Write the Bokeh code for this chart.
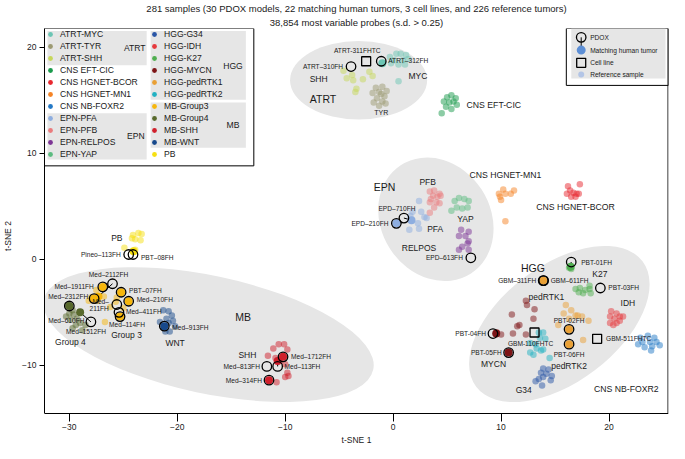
import math
from bokeh.plotting import figure
from bokeh.models import (Range1d, Legend, LegendItem, BoxAnnotation, Label,
                          ColumnDataSource, FixedTicker, Title)
from bokeh.core.properties import value
from bokeh.embed import file_html
from bokeh.resources import INLINE

FONT = "Liberation Sans"

# ------------------------------------------------------------------ data
TITLE_1 = "281 samples (30 PDOX models, 22 matching human tumors, 3 cell lines, and 226 reference tumors)"
TITLE_2 = "38,854 most variable probes (s.d. > 0.25)"
X_LABEL = "t-SNE 1"
Y_LABEL = "t-SNE 2"
X_TICKS = [-30, -20, -10, 0, 10, 20]
Y_TICKS = [-10, 0, 10, 20]

CLASSES = ["ATRT-MYC", "ATRT-TYR", "ATRT-SHH", "CNS EFT-CIC", "CNS HGNET-BCOR",
           "CNS HGNET-MN1", "CNS NB-FOXR2", "EPN-PFA", "EPN-PFB", "EPN-RELPOS", "EPN-YAP",
           "HGG-G34", "HGG-IDH", "HGG-K27", "HGG-MYCN", "HGG-pedRTK1", "HGG-pedRTK2",
           "MB-Group3", "MB-Group4", "MB-SHH", "MB-WNT", "PB"]
COLORS = ["#6cc5b4", "#9c9a72", "#c6d75a", "#1a9a4c", "#e8282f",
          "#f58426", "#2479c6", "#8eaee0", "#ea7b7d", "#7c3495", "#5cbb80",
          "#2a56a6", "#e63a3d", "#4fae4f", "#7d1416", "#e9a035", "#22b1c2",
          "#f6b60c", "#58692c", "#d0202c", "#17498c", "#f6e012"]

ATRT_MYC_X = [0.3, 0.7, 1.2, -0.3, 0.1, 0.9, 1.4, -0.2, 0.5, 1.1, 0.5]
ATRT_MYC_Y = [19.4, 19.4, 19.3, 19.1, 18.8, 18.8, 18.9, 18.5, 18.4, 18.4, 16.8]
ATRT_TYR_X = [-1.6, -1.0, -0.6, -1.9, -1.3, -0.8, -1.5, -1.0, -1.8, -0.7, -1.3, -1.1]
ATRT_TYR_Y = [16.2, 16.3, 15.9, 15.7, 15.8, 15.4, 15.2, 14.9, 14.8, 14.7, 14.5, 15.6]
ATRT_SHH_X = [-4.6, -4.3, -3.8, -3.7, -2.8, -2.2, -3.4, -3.5, -1.9]
ATRT_SHH_Y = [17.8, 17.1, 17.4, 16.9, 17.0, 17.7, 16.1, 15.8, 17.3]
CNS_EFT_CIC_X = [5.0, 5.4, 5.8, 4.7, 5.2, 5.6, 4.9, 5.4, 4.5, 5.9]
CNS_EFT_CIC_Y = [15.3, 15.5, 15.2, 14.9, 14.8, 14.9, 14.4, 14.2, 13.8, 14.6]
CNS_HGNET_BCOR_X = [16.2, 17.3, 16.4, 16.7, 16.1, 17.0, 16.5, 16.9, 17.2]
CNS_HGNET_BCOR_Y = [6.9, 7.1, 6.5, 6.3, 6.2, 6.2, 5.9, 5.9, 6.2]
CNS_HGNET_MN1_X = [10.2, 9.8, 9.9, 10.4, 10.9, 11.2, 10.0, 10.4]
CNS_HGNET_MN1_Y = [6.6, 6.2, 5.9, 6.2, 6.2, 6.5, 5.6, 3.6]
CNS_NB_FOXR2_X = [22.9, 23.6, 24.2, 23.1, 23.8, 24.4, 23.3, 24.0, 24.7, 22.7, 23.9]
CNS_NB_FOXR2_Y = [-7.4, -7.2, -7.4, -7.8, -7.8, -7.8, -8.3, -8.2, -8.1, -8.0, -8.6]
EPN_PFA_X = [2.4, 1.8, 1.6, 2.6, 2.9, 2.3, 1.5, 2.4, 3.1]
EPN_PFA_Y = [5.5, 4.5, 4.1, 4.5, 4.0, 3.4, 2.8, 2.9, 3.9]
EPN_PFB_X = [3.4, 3.8, 4.3, 3.7, 4.1, 4.4, 4.0, 3.4, 3.8, 4.3, 3.5, 3.4]
EPN_PFB_Y = [6.4, 6.5, 6.2, 6.0, 5.9, 6.0, 5.4, 5.4, 4.9, 5.3, 5.7, 4.4]
EPN_RELPOS_X = [6.3, 7.0, 6.1, 6.7, 7.0, 6.9, 6.4, 6.1, 7.0]
EPN_RELPOS_Y = [2.8, 2.6, 2.2, 2.2, 1.7, 1.5, 1.2, 0.9, 0.9]
EPN_YAP_X = [5.7, 6.1, 6.6, 7.0, 5.9, 6.4, 6.9, 5.4]
EPN_YAP_Y = [5.5, 5.8, 5.7, 5.5, 4.9, 4.8, 4.9, 4.6]
HGG_G34_X = [13.9, 14.4, 13.7, 14.2, 14.7, 13.5, 13.9, 14.6, 13.2, 13.8]
HGG_G34_Y = [-10.3, -10.4, -10.7, -10.8, -11.0, -11.3, -11.1, -11.4, -11.5, -11.9]
HGG_IDH_X = [20.2, 20.7, 21.0, 21.3, 20.1, 20.5, 21.0, 20.1, 20.4, 20.7]
HGG_IDH_Y = [-4.9, -5.1, -5.4, -5.4, -5.4, -5.6, -5.8, -6.0, -6.2, -6.0]
HGG_K27_X = [16.3, 16.5, 16.9, 17.3, 17.2, 17.8, 18.2, 18.3, 17.6, 18.2]
HGG_K27_Y = [-0.8, -0.9, -2.8, -2.7, -3.1, -2.9, -2.8, -3.2, -3.2, -2.5]
HGG_MYCN_X = [12.3, 12.4, 13.1, 13.0, 11.0, 11.5, 11.7, 11.1, 10.0, 12.3, 9.6]
HGG_MYCN_Y = [-3.9, -4.3, -4.7, -5.6, -5.2, -6.3, -6.2, -7.0, -7.1, -7.1, -6.9]
HGG_PEDRTK1_X = [16.0, 16.5, 16.9, 17.5, 18.1, 15.8, 16.3, 15.3, 17.6, 17.1]
HGG_PEDRTK1_Y = [-4.3, -4.8, -5.3, -5.4, -5.8, -5.1, -5.6, -6.2, -7.6, -5.3]
HGG_PEDRTK2_X = [13.5, 13.9, 13.6, 14.1, 12.7, 13.2, 12.7, 13.3, 13.7, 13.9, 14.5, 13.0]
HGG_PEDRTK2_Y = [-6.9, -6.9, -7.4, -7.5, -7.9, -8.0, -8.8, -8.4, -8.6, -8.5, -9.3, -9.0]
MB_GROUP3_X = [-27.5, -28.2, -28.0, -27.4, -26.8, -25.6, -25.7, -26.7, -26.2, -25.0]
MB_GROUP3_Y = [-2.9, -3.9, -3.6, -3.9, -3.5, -3.6, -4.0, -5.9, -4.5, -4.6]
MB_GROUP4_X = [-30.2, -29.7, -30.0, -29.6, -29.3, -30.3, -29.9, -29.0, -29.4, -29.7, -28.8, -28.5]
MB_GROUP4_Y = [-4.3, -4.8, -5.1, -5.2, -5.6, -5.4, -5.7, -6.0, -6.2, -6.5, -6.7, -6.2]
MB_SHH_X = [-11.1, -10.6, -10.1, -9.8, -10.9, -10.5, -10.0, -9.8, -10.0, -10.8, -9.7, -11.6]
MB_SHH_Y = [-8.4, -8.0, -8.0, -8.5, -9.3, -9.6, -9.9, -10.7, -11.1, -11.6, -11.0, -9.1]
MB_WNT_X = [-21.3, -20.8, -20.5, -21.0, -20.4, -21.6, -21.1, -20.7, -20.2, -20.8]
MB_WNT_Y = [-4.8, -4.9, -5.3, -5.6, -5.8, -5.9, -6.8, -6.8, -6.3, -6.0]
PB_X = [-24.1, -23.6, -23.3, -23.9, -23.4, -24.2, -24.9, -23.9]
PB_Y = [2.3, 2.5, 2.4, 1.9, 1.8, 2.0, 1.1, 0.9]

REF_X = [ATRT_MYC_X, ATRT_TYR_X, ATRT_SHH_X, CNS_EFT_CIC_X, CNS_HGNET_BCOR_X,
         CNS_HGNET_MN1_X, CNS_NB_FOXR2_X, EPN_PFA_X, EPN_PFB_X, EPN_RELPOS_X, EPN_YAP_X,
         HGG_G34_X, HGG_IDH_X, HGG_K27_X, HGG_MYCN_X, HGG_PEDRTK1_X, HGG_PEDRTK2_X,
         MB_GROUP3_X, MB_GROUP4_X, MB_SHH_X, MB_WNT_X, PB_X]
REF_Y = [ATRT_MYC_Y, ATRT_TYR_Y, ATRT_SHH_Y, CNS_EFT_CIC_Y, CNS_HGNET_BCOR_Y,
         CNS_HGNET_MN1_Y, CNS_NB_FOXR2_Y, EPN_PFA_Y, EPN_PFB_Y, EPN_RELPOS_Y, EPN_YAP_Y,
         HGG_G34_Y, HGG_IDH_Y, HGG_K27_Y, HGG_MYCN_Y, HGG_PEDRTK1_Y, HGG_PEDRTK2_Y,
         MB_GROUP3_Y, MB_GROUP4_Y, MB_SHH_Y, MB_WNT_Y, PB_Y]

PDOX_NAMES = ["ATRT–310FH", "ATRT–312FH", "EPD–710FH", "EPD–210FH", "EPD–613FH",
              "Pineo–113FH", "PBT–08FH", "Med–2112FH", "Med–1911FH", "PBT–07FH",
              "Med–2312FH", "Med–210FH", "Med–211FH", "Med–411FH", "Med–114FH",
              "Med–610FH", "Med–1512FH", "Med–913FH", "Med–1712FH", "Med–813FH",
              "Med–113FH", "Med–314FH", "PBT-01FH", "PBT-03FH", "GBM–311FH",
              "GBM–611FH", "PBT-04FH", "PBT-05FH", "PBT-02FH", "PBT-06FH"]
PDOX_X = [-3.9, -1.1, 1.0, 0.3, 7.2, -24.5, -24.1, -26.0, -26.9, -25.2,
          -27.7, -24.5, -25.6, -25.4, -25.3, -30.0, -28.0, -21.2, -10.2, -11.7,
          -10.7, -11.5, 16.5, 19.2, 13.9, 13.95, 9.25, 10.7, 16.3, 16.3]
PDOX_Y = [18.2, 18.7, 3.9, 3.4, 0.15, 0.46, 0.46, -2.3, -2.6, -3.1,
          -3.7, -3.95, -4.26, -5.0, -5.4, -4.4, -5.9, -6.3, -9.2, -10.1,
          -10.1, -11.4, -0.25, -2.7, -2.0, -2.0, -7.0, -8.8, -6.6, -8.0]

MATCH_PDOX = ["ATRT–312FH", "EPD–710FH", "EPD–210FH", "PBT–08FH", "Med–1911FH",
              "Med–2312FH", "PBT–07FH", "Med–210FH", "Med–114FH", "Med–913FH",
              "Med–1712FH", "Med–314FH", "Med–113FH", "PBT-01FH", "GBM–311FH",
              "PBT-04FH", "PBT-05FH", "PBT-02FH", "PBT-06FH", "Med–610FH",
              "Med–1512FH", "Med–2112FH"]
MATCH_CLASS = ["ATRT-MYC", "EPN-PFA", "EPN-PFA", "PB", "MB-Group3",
               "MB-Group3", "MB-Group3", "MB-Group3", "MB-Group3", "MB-WNT",
               "MB-SHH", "MB-SHH", "MB-SHH", "HGG-K27", "HGG-pedRTK1",
               "HGG-MYCN", "HGG-MYCN", "HGG-pedRTK1", "HGG-pedRTK1", "MB-Group4",
               "MB-Group4", "MB-Group3"]
MATCH_X = [-1.0, 1.7, 0.3, -24.05, -26.9, -27.7, -25.2, -24.5, -25.3, -21.2,
           -10.2, -11.5, -10.7, 16.45, 13.9, 9.55, 10.7, 16.3, 16.3, -30.0,
           -29.0, -27.3]
MATCH_Y = [18.5, 3.7, 3.4, 0.77, -2.6, -3.7, -3.1, -3.95, -5.4, -6.3,
           -9.2, -11.4, -9.6, -0.7, -2.0, -7.0, -8.8, -6.6, -8.0, -4.4,
           -5.0, -3.5]

CELL_NAMES = ["ATRT-311FHTC", "GBM-110FHTC", "GBM-511FHTC"]
CELL_X = [-2.5, 13.1, 18.9]
CELL_Y = [18.7, -6.9, -7.5]

# ------------------------------------------------------------------ layout
W, H = 669, 443
BL, BR, BT, BB = 39, 1, 20, 0
FW, FH = W - BL - BR, H - BT - BB
X0 = -32.3
X1 = X0 + FW / 10.88
Y1 = 21.79
Y0 = Y1 - FH / 10.8
SX = (X1 - X0) / FW
SY = (Y1 - Y0) / FH
AXIS_PX = 392                      # x-axis line, px below the frame top
Y_AXIS = Y1 - AXIS_PX * SY


def fx(px):
    return X0 + px * SX


def fy(py):
    return Y1 - py * SY


# label offsets in px (dx right, dy down) and alignment
PDOX_LAB = {
    "ATRT–310FH": (-8, 0, "right"), "ATRT–312FH": (7, -1, "left"),
    "EPD–710FH": (-7, -10, "center"), "EPD–210FH": (-8, 0, "right"),
    "EPD–613FH": (-8, 0, "right"), "Pineo–113FH": (-8, 0, "right"),
    "PBT–08FH": (8, 3, "left"), "Med–2112FH": (-4, -9, "center"),
    "Med–1911FH": (-9, 0, "right"), "PBT–07FH": (8, -2, "left"),
    "Med–2312FH": (-6, -2, "right"), "Med–210FH": (8, -2, "left"),
    "Med–411FH": (7, -1, "left"), "Med–114FH": (7, 8, "center"),
    "Med–610FH": (-3, 15, "center"), "Med–1512FH": (-5, 10, "center"),
    "Med–913FH": (8, 1, "left"), "Med–1712FH": (8, 0, "left"),
    "Med–813FH": (-7, 0, "right"), "Med–113FH": (7, 0, "left"),
    "Med–314FH": (-7, 0, "right"), "PBT-01FH": (10, 0, "left"),
    "PBT-03FH": (8, 0, "left"), "GBM–311FH": (-7, 0, "right"),
    "GBM–611FH": (7, 0, "left"), "PBT-04FH": (-7, 0, "right"),
    "PBT-05FH": (-7, 0, "right"), "PBT-02FH": (0, -9, "center"),
    "PBT-06FH": (0, 11, "center"),
}
CELL_LAB = {"ATRT-311FHTC": (-9, -11, "center"), "GBM-110FHTC": (-4, 11, "center"),
            "GBM-511FHTC": (9, 0, "left")}

# ellipses: cx, cy, width, height, angle(deg)
ELLIPSES = [(-3.2, 16.9, 12.7, 7.4, 0), (3.96, 3.78, 11.95, 10.3, -57),
            (-17.1, -7.1, 31.2, 11.1, -12), (15.4, -6.1, 19.3, 11.0, 37)]

# cluster labels: text, x, y, size, align
CLUSTER_LABELS = [
    ("ATRT", -6.5, 15.1, "10.5px", "center"), ("SHH", -6.9, 17.0, "8.5px", "center"),
    ("MYC", 2.3, 17.3, "8.5px", "center"), ("TYR", -1.1, 13.9, "7px", "center"),
    ("CNS EFT-CIC", 6.8, 14.6, "8.7px", "left"),
    ("EPN", -0.8, 6.8, "10.5px", "center"), ("PFB", 3.2, 7.3, "8.5px", "center"),
    ("PFA", 3.9, 2.9, "8.5px", "center"), ("YAP", 6.7, 3.8, "8.5px", "center"),
    ("RELPOS", 2.4, 1.1, "8.5px", "center"),
    ("CNS HGNET-MN1", 10.4, 8.0, "8.7px", "center"),
    ("CNS HGNET-BCOR", 16.9, 4.9, "8.7px", "center"),
    ("PB", -25.6, 2.0, "8.5px", "center"), ("Group 4", -29.9, -7.8, "8.5px", "center"),
    ("Group 3", -24.7, -7.1, "8.5px", "center"), ("WNT", -20.2, -7.9, "8.5px", "center"),
    ("MB", -13.9, -5.4, "10.5px", "center"), ("SHH", -13.5, -9.0, "8.5px", "center"),
    ("HGG", 12.95, -0.8, "10.5px", "center"), ("K27", 19.15, -1.4, "8.5px", "center"),
    ("IDH", 21.75, -4.1, "8.5px", "center"), ("pedRTK1", 14.2, -3.55, "8.5px", "center"),
    ("MYCN", 9.3, -9.9, "8.5px", "center"), ("pedRTK2", 16.3, -10.1, "8.5px", "center"),
    ("G34", 12.1, -12.35, "8.5px", "center"), ("CNS NB-FOXR2", 21.6, -12.2, "8.7px", "center"),
]

GRAY = "#e6e6e6"
INK = "#1a1a1a"
NAN = float("nan")

p = figure(width=W, height=H, x_range=Range1d(X0, X1), y_range=Range1d(Y0, Y1),
           output_backend="svg", toolbar_location=None, min_border_left=BL, min_border_right=BR,
           min_border_top=BT, min_border_bottom=BB)
p.outline_line_color = None
p.grid.visible = False
p.background_fill_color = "white"

p.add_layout(Title(text=TITLE_2, align="center", text_font_size="9.5px", text_font_style="normal",
                   text_font=FONT, text_color=INK, standoff=2), "above")
p.add_layout(Title(text=TITLE_1, align="center", text_font_size="9.5px", text_font_style="normal",
                   text_font=FONT, text_color=INK, standoff=0), "above")

# axes
p.xaxis.ticker = FixedTicker(ticks=X_TICKS)
p.yaxis.ticker = FixedTicker(ticks=Y_TICKS)
for ax in (p.xaxis[0], p.yaxis[0]):
    ax.axis_line_color = "black"
    ax.major_tick_line_color = "black"
    ax.major_tick_in = 0
    ax.minor_tick_line_color = None
    ax.major_label_text_font = FONT
    ax.major_label_text_font_size = "8.5px"
    ax.major_label_text_color = INK
    ax.axis_label_text_font = FONT
    ax.axis_label_text_font_size = "8.5px"
    ax.axis_label_text_font_style = "normal"
    ax.axis_label_text_color = INK
p.xaxis.fixed_location = Y_AXIS
p.xaxis.major_tick_out = 8
p.xaxis.major_label_standoff = 3
p.xaxis.axis_label = X_LABEL
p.xaxis.axis_label_standoff = 1
p.yaxis.bounds = (Y_AXIS, Y1)
p.yaxis.major_tick_out = 5
p.yaxis.major_label_standoff = 3
p.yaxis.axis_label = Y_LABEL
p.yaxis.axis_label_standoff = 6
# right-hand frame line
p.segment(x0=[X1 - 0.5 * SX], y0=[Y_AXIS], x1=[X1 - 0.5 * SX], y1=[Y1],
          line_color="black", line_width=1)

# ellipses
p.ellipse(x=[e[0] for e in ELLIPSES], y=[e[1] for e in ELLIPSES],
          width=[e[2] for e in ELLIPSES], height=[e[3] for e in ELLIPSES],
          angle=[math.radians(e[4]) for e in ELLIPSES], fill_color=GRAY, line_color=None)

# reference samples
color_of = dict(zip(CLASSES, COLORS))
for cls, xs, ys in zip(CLASSES, REF_X, REF_Y):
    p.scatter(xs, ys, size=6.5, fill_color=color_of[cls], fill_alpha=0.5, line_color=None)

# PDOX -> matching tumor links
pdox_pos = {n: (x, y) for n, x, y in zip(PDOX_NAMES, PDOX_X, PDOX_Y)}
p.segment(x0=[pdox_pos[n][0] for n in MATCH_PDOX], y0=[pdox_pos[n][1] for n in MATCH_PDOX],
          x1=MATCH_X, y1=MATCH_Y, line_color="black", line_width=1)
p.scatter(MATCH_X, MATCH_Y, size=8, fill_color=[color_of[c] for c in MATCH_CLASS],
          line_color=None)
p.scatter(PDOX_X, PDOX_Y, size=9.5, fill_color=None, line_color="black", line_width=1.3)
p.scatter(CELL_X, CELL_Y, marker="square", size=9, fill_color=None, line_color="black",
          line_width=1.3)

# PDOX / cell labels
lab_x, lab_y, lab_t, lab_a = [], [], [], []
for n, x, y in zip(PDOX_NAMES, PDOX_X, PDOX_Y):
    if n == "Med–211FH":
        continue
    dxp, dyp, al = PDOX_LAB[n]
    lab_x.append(x + dxp * SX); lab_y.append(y - dyp * SY); lab_t.append(n); lab_a.append(al)
for n, x, y in zip(CELL_NAMES, CELL_X, CELL_Y):
    dxp, dyp, al = CELL_LAB[n]
    lab_x.append(x + dxp * SX); lab_y.append(y - dyp * SY); lab_t.append(n); lab_a.append(al)
mx, my = pdox_pos["Med–211FH"]
for t, dyp in (("Med–", -3), ("211FH", 4.5)):
    lab_x.append(mx - 8 * SX); lab_y.append(my - dyp * SY); lab_t.append(t); lab_a.append("right")
p.text(x="x", y="y", text="t", text_align="a",
       source=ColumnDataSource(dict(x=lab_x, y=lab_y, t=lab_t, a=lab_a)),
       text_baseline="middle", text_font=value(FONT), text_font_size="6.6px", text_color=INK)

# cluster labels
for t, x, y, s, al in CLUSTER_LABELS:
    p.text(x=[x], y=[y], text=[t], text_align=al, text_baseline="middle",
           text_font=value(FONT), text_font_size=s, text_color=INK)

# ---------------------------------------------------------------- legend (left)
p.add_layout(BoxAnnotation(left=fx(0), right=fx(211), top=fy(0), bottom=fy(140),
                           fill_color="white", fill_alpha=1, line_color="black", line_width=1,
                           line_alpha=1, level="underlay"))
for l, r, t, b in ((3, 103, 2.5, 37.5), (3, 103, 86.5, 133.5), (107, 203, 2.5, 72.5),
                   (107, 203, 75.5, 121.5)):
    p.add_layout(BoxAnnotation(left=fx(l), right=fx(r), top=fy(t), bottom=fy(b),
                               fill_color=GRAY, fill_alpha=1, line_color=None, level="underlay"))
for t, x, y in (("ATRT", 91, 20), ("EPN", 92, 110), ("HGG", 190, 38), ("MB", 190, 98)):
    p.add_layout(Label(x=fx(x), y=fy(y), text=t, text_align="center", text_baseline="middle",
                       text_font=FONT, text_font_size="8.6px", text_color=INK))

items = []
for cls in CLASSES:
    r = p.scatter(x=[NAN], y=[NAN], size=5, fill_color=color_of[cls], line_color=None)
    items.append(LegendItem(label=cls, renderers=[r]))
leg = Legend(items=items, location="top_left", ncols=2, orientation="vertical", margin=0,
             padding=2, spacing=0, glyph_width=12, glyph_height=12, label_height=12,
             label_width=88, label_standoff=4, label_text_font=FONT,
             label_text_font_size="8.6px", label_text_color=INK,
             background_fill_alpha=0, border_line_color=None)
p.add_layout(leg)

# ---------------------------------------------------------------- legend (right)
RL = FW - 103
p.add_layout(BoxAnnotation(left=fx(RL), right=fx(FW), top=fy(0), bottom=fy(58),
                           fill_color="white", fill_alpha=1, line_color="black", line_width=1,
                           line_alpha=1, level="underlay"))
p.add_layout(BoxAnnotation(left=fx(RL + 5), right=fx(FW - 3), top=fy(0), bottom=fy(51),
                           fill_color=GRAY, fill_alpha=1, line_color=None, level="underlay"))
kx = fx(RL + 15)
p.segment(x0=[kx], y0=[fy(9)], x1=[kx], y1=[fy(22)], line_color="black", line_width=1)
p.scatter([kx], [fy(22)], size=9, fill_color="#5d8fd6", line_color=None)
p.scatter([kx], [fy(9)], size=9.5, fill_color=None, line_color="black", line_width=1.3)
p.scatter([kx], [fy(35)], marker="square", size=9, fill_color=None, line_color="black",
          line_width=1.3)
p.scatter([kx], [fy(47)], size=6, fill_color="#9db7e6", fill_alpha=0.7, line_color=None)
for t, yy in (("PDOX", 9), ("Matching human tumor", 22), ("Cell line", 35),
              ("Reference sample", 47)):
    p.add_layout(Label(x=fx(RL + 24), y=fy(yy), text=t, text_align="left",
                       text_baseline="middle", text_font=FONT, text_font_size="6.6px",
                       text_color=INK))

open("out.html", "w").write(file_html(p, INLINE))
